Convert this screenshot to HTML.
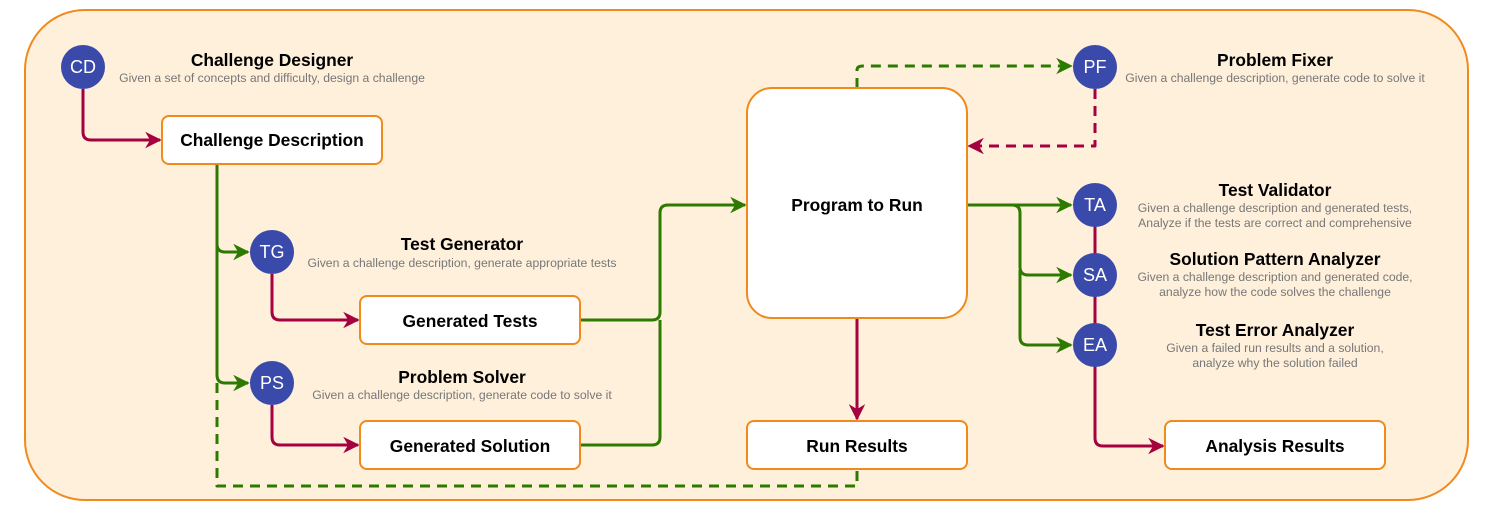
<!DOCTYPE html>
<html><head><meta charset="utf-8"><style>
html,body{margin:0;padding:0;background:#fff;}
svg{display:block;font-family:"Liberation Sans",Arial,sans-serif;}
.t{font-weight:bold;font-size:17.4px;fill:#000;text-anchor:middle;}
.s{font-size:12.2px;fill:#777;text-anchor:middle;}
.c{font-size:18px;fill:#fff;text-anchor:middle;}
.b{font-weight:bold;font-size:17.4px;fill:#000;text-anchor:middle;}
.g{stroke:#2d7a00;stroke-width:3;fill:none;stroke-linejoin:round;}
.r{stroke:#a50040;stroke-width:3;fill:none;stroke-linejoin:round;}
.box{fill:#fff;stroke:#f08a1c;stroke-width:2;}
</style></head><body>
<svg width="1495" height="512" viewBox="0 0 1495 512">
<defs>
<marker id="ag" viewBox="0 0 10 10" refX="9" refY="5" markerWidth="5.5" markerHeight="5.5" orient="auto" markerUnits="strokeWidth"><path d="M0,0 L10,5 L0,10 L3,5 z" fill="#2d7a00"/></marker>
<marker id="ar" viewBox="0 0 10 10" refX="9" refY="5" markerWidth="5.5" markerHeight="5.5" orient="auto" markerUnits="strokeWidth"><path d="M0,0 L10,5 L0,10 L3,5 z" fill="#a50040"/></marker>
</defs>
<rect x="25" y="10" width="1443" height="490" rx="60" fill="#fff0dc" stroke="#f08a1c" stroke-width="2"/>

<path class="r" d="M83,89 V132 Q83,140 91,140 H160" marker-end="url(#ar)"/>
<path class="g" d="M217,164 V244 Q217,252 225,252 H248" marker-end="url(#ag)"/>
<path class="g" d="M217,244 V375 Q217,383 225,383 H248" marker-end="url(#ag)"/>
<path class="g" d="M217,383 V486 H857 V469" stroke-dasharray="10,7"/>
<path class="r" d="M272,274 V312 Q272,320 280,320 H358" marker-end="url(#ar)"/>
<path class="r" d="M272,405 V437 Q272,445 280,445 H358" marker-end="url(#ar)"/>
<path class="g" d="M580,320 H652 Q660,320 660,312 V213 Q660,205 668,205 H745" marker-end="url(#ag)"/>
<path class="g" d="M580,445 H652 Q660,445 660,437 V320"/>
<path class="r" d="M857,318 V419" marker-end="url(#ar)"/>
<path class="g" d="M857,88 V70 Q857,66 863,66 H1071" stroke-dasharray="10,7" marker-end="url(#ag)"/>
<path class="r" d="M1095,89 V146 H969" stroke-dasharray="10,7" marker-end="url(#ar)"/>
<path class="g" d="M967,205 H1071" marker-end="url(#ag)"/>
<path class="g" d="M1012,205 Q1020,205 1020,213 V267 Q1020,275 1028,275 H1071" marker-end="url(#ag)"/>
<path class="g" d="M1020,270 V337 Q1020,345 1028,345 H1071" marker-end="url(#ag)"/>
<path class="r" d="M1095,205 V438 Q1095,446 1103,446 H1163" marker-end="url(#ar)"/>

<rect class="box" x="162" y="116" width="220" height="48" rx="7"/>
<text class="b" x="272" y="146">Challenge Description</text>
<rect class="box" x="360" y="296" width="220" height="48" rx="7"/>
<text class="b" x="470" y="327">Generated Tests</text>
<rect class="box" x="360" y="421" width="220" height="48" rx="7"/>
<text class="b" x="470" y="452">Generated Solution</text>
<rect class="box" x="747" y="88" width="220" height="230" rx="25"/>
<text class="b" x="857" y="211">Program to Run</text>
<rect class="box" x="747" y="421" width="220" height="48" rx="7"/>
<text class="b" x="857" y="452">Run Results</text>
<rect class="box" x="1165" y="421" width="220" height="48" rx="7"/>
<text class="b" x="1275" y="452">Analysis Results</text>

<g fill="#3a4aaa">
<circle cx="83" cy="67" r="22"/><circle cx="272" cy="252" r="22"/><circle cx="272" cy="383" r="22"/>
<circle cx="1095" cy="67" r="22"/><circle cx="1095" cy="205" r="22"/><circle cx="1095" cy="275" r="22"/><circle cx="1095" cy="345" r="22"/>
</g>
<text class="c" x="83" y="73">CD</text>
<text class="c" x="272" y="258">TG</text>
<text class="c" x="272" y="389">PS</text>
<text class="c" x="1095" y="73">PF</text>
<text class="c" x="1095" y="211">TA</text>
<text class="c" x="1095" y="281">SA</text>
<text class="c" x="1095" y="351">EA</text>

<text class="t" x="272" y="66">Challenge Designer</text>
<text class="s" x="272" y="82">Given a set of concepts and difficulty, design a challenge</text>
<text class="t" x="462" y="250">Test Generator</text>
<text class="s" x="462" y="267">Given a challenge description, generate appropriate tests</text>
<text class="t" x="462" y="383">Problem Solver</text>
<text class="s" x="462" y="399">Given a challenge description, generate code to solve it</text>
<text class="t" x="1275" y="66">Problem Fixer</text>
<text class="s" x="1275" y="82">Given a challenge description, generate code to solve it</text>
<text class="t" x="1275" y="196">Test Validator</text>
<text class="s" x="1275" y="212">Given a challenge description and generated tests,</text>
<text class="s" x="1275" y="227">Analyze if the tests are correct and comprehensive</text>
<text class="t" x="1275" y="265">Solution Pattern Analyzer</text>
<text class="s" x="1275" y="281">Given a challenge description and generated code,</text>
<text class="s" x="1275" y="296">analyze how the code solves the challenge</text>
<text class="t" x="1275" y="336">Test Error Analyzer</text>
<text class="s" x="1275" y="352">Given a failed run results and a solution,</text>
<text class="s" x="1275" y="367">analyze why the solution failed</text>
</svg>
</body></html>
